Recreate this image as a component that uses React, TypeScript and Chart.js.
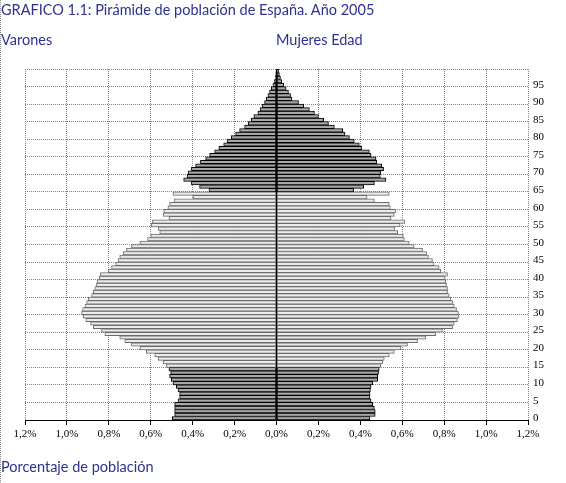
import React, { useEffect, useRef } from "react";
import { Chart, registerables } from "chart.js";

Chart.register(...registerables);

// Single-year ages 0..99
const ages: number[] = Array.from({ length: 100 }, (_, i) => i);

// Share of total population (%) by single year of age, ages 0..99
const varones: number[] = [
  0.497, 0.486, 0.486, 0.486, 0.486, 0.47, 0.462, 0.462, 0.47, 0.478,
  0.494, 0.502, 0.51, 0.505, 0.513, 0.525, 0.541, 0.565, 0.581, 0.621,
  0.652, 0.692, 0.724, 0.748, 0.819, 0.835, 0.874, 0.887, 0.91, 0.922,
  0.93, 0.925, 0.914, 0.906, 0.898, 0.882, 0.874, 0.867, 0.859, 0.856,
  0.846, 0.84, 0.803, 0.787, 0.767, 0.756, 0.748, 0.732, 0.716, 0.692,
  0.652, 0.615, 0.6, 0.557, 0.565, 0.597, 0.592, 0.513, 0.541, 0.538,
  0.518, 0.51, 0.489, 0.398, 0.494, 0.322, 0.367, 0.406, 0.443, 0.427,
  0.422, 0.406, 0.386, 0.363, 0.338, 0.319, 0.295, 0.275, 0.252, 0.236,
  0.216, 0.195, 0.176, 0.152, 0.135, 0.121, 0.108, 0.089, 0.078, 0.068,
  0.057, 0.049, 0.041, 0.033, 0.025, 0.017, 0.01, 0.006, 0.004, 0.003,
];

const mujeres: number[] = [
  0.446, 0.471, 0.471, 0.467, 0.459, 0.451, 0.446, 0.446, 0.448, 0.451,
  0.459, 0.483, 0.483, 0.487, 0.49, 0.498, 0.506, 0.514, 0.538, 0.562,
  0.594, 0.625, 0.673, 0.713, 0.76, 0.792, 0.84, 0.848, 0.863, 0.871,
  0.868, 0.859, 0.848, 0.84, 0.832, 0.824, 0.816, 0.816, 0.811, 0.808,
  0.805, 0.816, 0.784, 0.776, 0.752, 0.744, 0.725, 0.716, 0.697, 0.657,
  0.633, 0.61, 0.605, 0.578, 0.565, 0.59, 0.613, 0.546, 0.562, 0.57,
  0.543, 0.538, 0.467, 0.432, 0.538, 0.368, 0.416, 0.467, 0.522, 0.495,
  0.498, 0.511, 0.502, 0.479, 0.475, 0.451, 0.443, 0.406, 0.395, 0.371,
  0.348, 0.327, 0.316, 0.276, 0.248, 0.225, 0.2, 0.181, 0.157, 0.13,
  0.105, 0.073, 0.067, 0.057, 0.046, 0.035, 0.025, 0.019, 0.014, 0.01,
];

// Percentage ticks on the horizontal axis
const xMax = 1.2;
const xStep = 0.2;

const TEXT_BLUE = "#2e3192";
const SANS = "Lato, 'Open Sans', sans-serif";
const SERIF = "'Liberation Serif', 'DejaVu Serif', serif";

// Broad age groups: 0-14 and 65+ in dark grey, working age in light
const isDarkGroup = (age: number) => age < 15 || age >= 65;
const fills = ages.map((a) => (isDarkGroup(a) ? "#a8a8a8" : "#ececec"));
const edges = ages.map((a) => (isDarkGroup(a) ? "#000000" : "#6a6a6a"));

const fmtPct = (v: number) => Math.abs(v).toFixed(1).replace(".", ",") + "%";

export default function App() {
  const canvasRef = useRef<HTMLCanvasElement | null>(null);

  useEffect(() => {
    const canvas = canvasRef.current;
    if (!canvas) return;
    const chart = new Chart(canvas, {
      type: "bar",
      data: {
        labels: ages.map(String),
        datasets: [
          {
            label: "Varones",
            data: varones.map((v) => -v),
            backgroundColor: fills,
            borderColor: edges,
            borderWidth: 1,
            borderSkipped: false,
            barPercentage: 1,
            categoryPercentage: 1,
          },
          {
            label: "Mujeres",
            data: mujeres,
            backgroundColor: fills,
            borderColor: edges,
            borderWidth: 1,
            borderSkipped: false,
            barPercentage: 1,
            categoryPercentage: 1,
          },
        ],
      },
      options: {
        indexAxis: "y",
        animation: false,
        responsive: false,
        devicePixelRatio: 1,
        layout: { padding: { left: 25, top: 69, right: 0, bottom: 0 } },
        plugins: {
          legend: { display: false },
          tooltip: { enabled: false },
          title: { display: false },
        },
        scales: {
          x: {
            type: "linear",
            stacked: true,
            min: -xMax,
            max: xMax,
            position: "bottom",
            afterFit: (scale: any) => {
              scale.height = 63;
            },
            ticks: {
              stepSize: xStep,
              color: "#000",
              padding: 3,
              font: { family: SERIF, size: 11 },
              callback: (v: any) => fmtPct(Number(v)),
            },
            grid: {
              color: "#858585",
              lineWidth: 1,
              drawTicks: true,
              tickLength: 5,
              tickColor: "#000",
              tickWidth: 1,
            },
            border: { display: true, color: "#000", width: 1, dash: [1, 1] },
          },
          // zero line drawn on top of the bars
          x0: {
            type: "linear",
            min: -xMax,
            max: xMax,
            position: "top",
            afterFit: (scale: any) => {
              scale.height = 0;
            },
            ticks: { display: false, stepSize: xStep },
            grid: {
              z: 1,
              drawTicks: false,
              lineWidth: 1,
              color: (ctx: any) =>
                ctx.tick && Math.abs(ctx.tick.value) < 1e-9 ? "#000" : "rgba(0,0,0,0)",
            },
            border: { display: false },
          },
          y: {
            type: "category",
            stacked: true,
            reverse: true,
            position: "right",
            afterFit: (scale: any) => {
              scale.width = 38;
            },
            ticks: {
              autoSkip: false,
              color: "#000",
              padding: 5,
              font: { family: SERIF, size: 11 },
              callback: (_v: any, i: number) => (ages[i] % 5 === 0 ? String(ages[i]) : ""),
            },
            grid: {
              offset: true,
              drawTicks: false,
              lineWidth: 1,
              color: (ctx: any) => {
                const i = ctx.type === "tick" ? ctx.index : ages.length;
                return i % 5 === 0 ? "#858585" : "rgba(0,0,0,0)";
              },
            },
            border: { display: false, dash: [1, 1] },
          },
        },
      },
    });
    return () => chart.destroy();
  }, []);

  const text: React.CSSProperties = {
    position: "absolute",
    left: 0,
    margin: 0,
    color: TEXT_BLUE,
    fontFamily: SANS,
    fontSize: 14.5,
    lineHeight: "18px",
    whiteSpace: "nowrap",
  };

  return (
    <div
      style={{
        position: "absolute",
        left: 0,
        top: 0,
        width: 566,
        height: 483,
        background: "#fff",
        overflow: "hidden",
        borderLeft: "1px dotted #8a8a8a",
        boxSizing: "border-box",
      }}
    >
      <canvas
        ref={canvasRef}
        width={566}
        height={483}
        style={{ position: "absolute", left: -1, top: 0, width: 566, height: 483 }}
      />
      <div style={{ ...text, top: 1 }}>GRAFICO 1.1: Pirámide de población de España. Año 2005</div>
      <div style={{ ...text, top: 31 }}>Varones</div>
      <div style={{ ...text, top: 31, left: 275 }}>Mujeres Edad</div>
      <div style={{ ...text, top: 458 }}>Porcentaje de población</div>
    </div>
  );
}
